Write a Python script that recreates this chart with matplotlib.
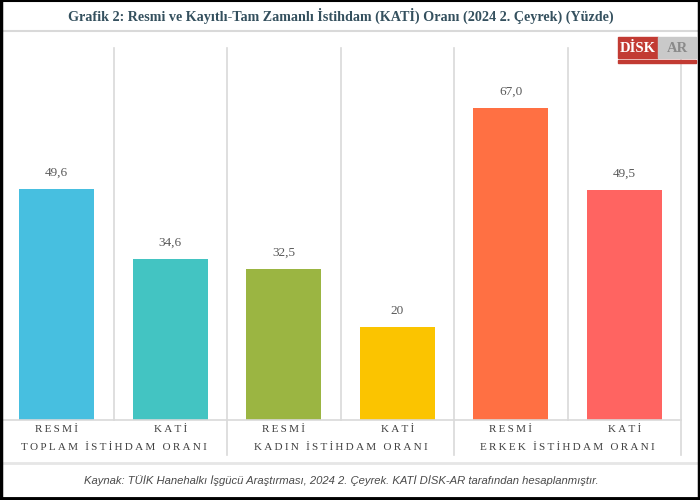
#!/usr/bin/env python3
import matplotlib
matplotlib.use("Agg")
import matplotlib.pyplot as plt
from matplotlib.patches import Rectangle
from matplotlib.lines import Line2D

# data
bar_labels = ["RESMİ", "KATİ", "RESMİ", "KATİ", "RESMİ", "KATİ"]
group_labels = ["TOPLAM İSTİHDAM ORANI", "KADIN İSTİHDAM ORANI", "ERKEK İSTİHDAM ORANI"]
values = [49.6, 34.6, 32.5, 20.0, 67.0, 49.5]
value_texts = ["49,6", "34,6", "32,5", "20", "67,0", "49,5"]
colors = ["#47BFE0", "#43C4C2", "#9BB542", "#FBC400", "#FF7043", "#FF6461"]

title = "Grafik 2: Resmi ve Kayıtlı-Tam Zamanlı İstihdam (KATİ) Oranı (2024 2. Çeyrek) (Yüzde)"
source = "Kaynak: TÜİK Hanehalkı İşgücü Araştırması, 2024 2. Çeyrek. KATİ DİSK-AR tarafından hesaplanmıştır."

W, H = 700, 500
grid_c = "#d9d9d9"
text_c = "#404040"


def spaced(s):
    # letter-spaced caps like the original
    return "\u2009".join(s)


fig = plt.figure(figsize=(7, 5), dpi=100)
ax = fig.add_axes([0 / W, (H - 420) / H, 681 / W, 372 / H])

xs = range(len(values))
ax.bar(xs, values, width=0.66, color=colors, zorder=3)
ax.set_xlim(-0.5, 5.5)
ax.set_ylim(0, 80)
for s in ax.spines.values():
    s.set_visible(False)
ax.set_xticks([])
ax.set_yticks([])

for i, (v, t) in enumerate(zip(values, value_texts)):
    ax.text(i, v + 2.2, t, ha="center", va="bottom", fontsize=9.5,
            family="Liberation Serif", color="#595959")

# grid lines between bars
trans = ax.get_xaxis_transform()
for k in range(6):
    x = k + 0.5
    y0 = -35 / 372 if k in (1, 3, 5) else 0
    ax.add_line(Line2D([x, x], [y0, 1], transform=trans, color=grid_c,
                       lw=1.2, clip_on=False, zorder=1))
ax.add_line(Line2D([-0.5, 5.5], [0, 0], transform=trans, color=grid_c,
                   lw=1.2, clip_on=False, zorder=4))

# category labels
for i, lab in enumerate(bar_labels):
    ax.text(i, -10 / 372, spaced(lab), transform=trans, ha="center", va="center",
            fontsize=8, family="Liberation Serif", color=text_c)
for g, lab in enumerate(group_labels):
    ax.text(2 * g + 0.5, -27 / 372, spaced(lab), transform=trans, ha="center",
            va="center", fontsize=8, family="Liberation Serif", color=text_c)

# title and separators
fig.text(341 / W, 1 - 16 / H, title, ha="center", va="center", fontsize=10.2,
         fontweight="bold", family="Liberation Serif", color="#34505E")
fig.add_artist(Line2D([0, 1], [1 - 31 / H, 1 - 31 / H], color=grid_c, lw=1.5))
fig.add_artist(Line2D([0, 1], [1 - 463 / H, 1 - 463 / H], color="#e6e6e6", lw=2))

fig.text(341 / W, 1 - 481 / H, source, ha="center", va="center", fontsize=8.1,
         style="italic", family="Liberation Sans", color="#4a4a4a")

# logo
fig.add_artist(Rectangle((618 / W, 1 - 58 / H), 40 / W, 21 / H, color="#C23B33",
                         transform=fig.transFigure))
fig.add_artist(Rectangle((658 / W, 1 - 58 / H), 38 / W, 21 / H, color="#C9C9C9",
                         transform=fig.transFigure))
fig.text(638 / W, 1 - 48 / H, "DİSK", ha="center", va="center", fontsize=10.5,
         fontweight="bold", family="Liberation Serif", color="white")
fig.text(677 / W, 1 - 48 / H, "AR", ha="center", va="center", fontsize=10.5,
         fontweight="bold", family="Liberation Serif", color="#8a8a8a")
fig.add_artist(Rectangle((618 / W, 1 - 63 / H), 78 / W, 3 / H, color="#C23B33",
                         transform=fig.transFigure))

# outer frame
fig.add_artist(Line2D([0.0015, 0.0015], [0, 1], color="black", lw=2.5))
fig.add_artist(Line2D([0.9985, 0.9985], [0, 1], color="black", lw=2.5))
fig.add_artist(Line2D([0, 1], [0.003, 0.003], color="black", lw=3.5))
fig.add_artist(Line2D([0, 1], [0.999, 0.999], color="black", lw=1.5))

fig.savefig("out.png", dpi=100)
